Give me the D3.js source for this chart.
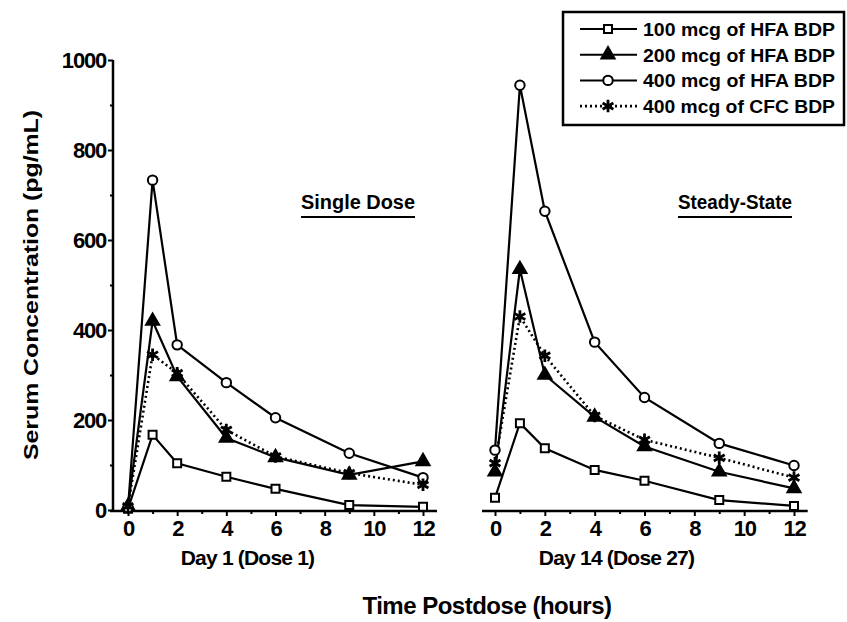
<!DOCTYPE html>
<html>
<head>
<meta charset="utf-8">
<script src="https://cdn.jsdelivr.net/npm/d3@7"></script>
<style>
  body { margin: 0; background: #fff; }
  svg text { font-family: "Liberation Sans", Arial, sans-serif; font-weight: bold; fill: #000; }
</style>
</head>
<body>
<div id="chart"></div>
<script>
var svgWidth = 847;
var svgHeight = 622;

// hours after dose
var timePoints = [0, 1, 2, 4, 6, 9, 12];
var seriesNames = ["100 mcg of HFA BDP", "200 mcg of HFA BDP", "400 mcg of HFA BDP", "400 mcg of CFC BDP"];

// Day 1 (single dose), pg/mL
var day1HFA100 = [3, 167, 104, 74, 47, 11, 7];
var day1HFA200 = [8, 420, 297, 160, 117, 78, 108];
var day1HFA400 = [5, 733, 367, 283, 205, 126, 72];
var day1CFC400 = [8, 345, 304, 178, 119, 82, 56];

// Day 14 (steady state), pg/mL
var day14HFA100 = [27, 193, 137, 89, 65, 22, 9];
var day14HFA200 = [85, 535, 300, 207, 141, 85, 48];
var day14HFA400 = [133, 944, 664, 373, 250, 148, 99];
var day14CFC400 = [104, 430, 343, 209, 156, 116, 72];

var yTicks = [0, 200, 400, 600, 800, 1000];
var yMinorTicks = [100, 300, 500, 700, 900];
var xTicks = [0, 2, 4, 6, 8, 10, 12];
var xMinorTicks = [1, 3, 5, 7, 9, 11];

var svg = d3.select("#chart")
    .append("svg")
    .attr("width", svgWidth)
    .attr("height", svgHeight);

var y = d3.scaleLinear().domain([0, 1000]).range([510, 60]);

var xLeft = d3.scaleLinear().domain([0, 12]).range([128, 423]);
var xRight = d3.scaleLinear().domain([0, 12]).range([495, 794]);

var markers = [
  {type: d3.symbolSquare, size: 64, fill: "#fff", dash: null},
  {type: d3.symbolTriangle, size: 75, fill: "#000", dash: null},
  {type: d3.symbolCircle, size: 70, fill: "#fff", dash: null},
  {type: d3.symbolAsterisk, size: 110, fill: "#000", dash: "2,3"}
];

var panels = [
  {x: xLeft, series: [day1HFA100, day1HFA200, day1HFA400, day1CFC400],
   axisFrom: -0.73, axisTo: 12.57, day: "Day 1 (Dose 1)", tag: "Single Dose", tagX: 301},
  {x: xRight, series: [day14HFA100, day14HFA200, day14HFA400, day14CFC400],
   axisFrom: -0.52, axisTo: 12.55, day: "Day 14 (Dose 27)", tag: "Steady-State", tagX: 678}
];

// y axis (left panel only)
var yAxis = svg.append("g")
    .attr("transform", "translate(113,0)")
    .call(d3.axisLeft(y).tickValues(yTicks).tickFormat(d3.format("d")).tickSize(5).tickPadding(2));
yAxis.select(".domain").attr("stroke-width", 2.5).attr("d", "M0," + y(0) + "V" + y(1000));
yAxis.selectAll(".tick line").attr("stroke-width", 2);
yAxis.selectAll("text")
    .style("font-size", "22px")
    .style("letter-spacing", "-1.2px");
svg.append("g")
    .attr("transform", "translate(113,0)")
    .call(d3.axisLeft(y).tickValues(yMinorTicks).tickSize(3).tickFormat(""))
    .call(g => g.select(".domain").remove())
    .selectAll("line").attr("stroke-width", 2);

svg.append("text")
    .attr("transform", "translate(38,285) rotate(-90)")
    .attr("text-anchor", "middle")
    .attr("textLength", 350)
    .attr("lengthAdjust", "spacingAndGlyphs")
    .style("font-size", "20px")
    .text("Serum Concentration (pg/mL)");

var line = d3.line();

panels.forEach(function(p) {
  var xAxis = svg.append("g")
      .attr("transform", "translate(0," + (y(0) + 1) + ")")
      .call(d3.axisBottom(p.x).tickValues(xTicks).tickSize(5).tickPadding(4));
  xAxis.select(".domain").remove();
  xAxis.selectAll(".tick line").attr("stroke-width", 2);
  xAxis.selectAll("text")
      .style("font-size", "22px")
      .style("letter-spacing", "-1.2px");
  svg.append("g")
      .attr("transform", "translate(0," + (y(0) + 1) + ")")
      .call(d3.axisBottom(p.x).tickValues(xMinorTicks).tickSize(3).tickFormat(""))
      .call(g => g.select(".domain").remove())
      .selectAll("line").attr("stroke-width", 2);
  svg.append("line")
      .attr("x1", p.x(p.axisFrom)).attr("x2", p.x(p.axisTo))
      .attr("y1", y(0) + 1).attr("y2", y(0) + 1)
      .attr("stroke", "#000").attr("stroke-width", 2.5);

  svg.append("text")
      .attr("x", (p.x(0) + p.x(12)) / 2 - 28)
      .attr("y", 565)
      .attr("text-anchor", "middle")
      .style("font-size", "21px")
      .style("letter-spacing", "-0.8px")
      .text(p.day);

  svg.append("text")
      .attr("x", p.tagX)
      .attr("y", 209)
      .attr("textLength", 114)
      .attr("lengthAdjust", "spacingAndGlyphs")
      .style("font-size", "20px")
      .text(p.tag);
  svg.append("line")
      .attr("x1", p.tagX).attr("x2", p.tagX + 114)
      .attr("y1", 217).attr("y2", 217)
      .attr("stroke", "#000").attr("stroke-width", 2);

  p.series.forEach(function(vals, i) {
    var pts = timePoints.map((t, j) => [p.x(t), y(vals[j])]);
    svg.append("path")
        .attr("d", line(pts))
        .attr("fill", "none")
        .attr("stroke", "#000")
        .attr("stroke-width", markers[i].dash ? 2.6 : 2.2)
        .attr("stroke-dasharray", markers[i].dash);
  });

  p.series.forEach(function(vals, i) {
    var m = markers[i];
    svg.selectAll(null)
        .data(vals)
        .enter()
        .append("path")
        .attr("transform", (d, j) => "translate(" + p.x(timePoints[j]) + "," + y(d) + ")")
        .attr("d", d3.symbol().type(m.type).size(m.size))
        .attr("fill", m.fill)
        .attr("stroke", "#000")
        .attr("stroke-width", m.type === d3.symbolAsterisk ? 2.8 : 2);
  });
});

svg.append("text")
    .attr("x", 487)
    .attr("y", 614)
    .attr("text-anchor", "middle")
    .style("font-size", "24px")
    .style("letter-spacing", "-0.5px")
    .text("Time Postdose (hours)");

// legend
var legend = svg.append("g");
legend.append("rect")
    .attr("x", 563).attr("y", 12)
    .attr("width", 281).attr("height", 113)
    .attr("fill", "#fff")
    .attr("stroke", "#000")
    .attr("stroke-width", 2.5);

seriesNames.forEach(function(name, i) {
  var ly = 29 + i * 25.7;
  var m = markers[i];
  legend.append("line")
      .attr("x1", 580).attr("x2", 637)
      .attr("y1", ly).attr("y2", ly)
      .attr("stroke", "#000")
      .attr("stroke-width", m.dash ? 2.6 : 2)
      .attr("stroke-dasharray", m.dash);
  legend.append("path")
      .attr("transform", "translate(608," + ly + ")")
      .attr("d", d3.symbol().type(m.type).size(m.size))
      .attr("fill", m.fill)
      .attr("stroke", "#000")
      .attr("stroke-width", m.type === d3.symbolAsterisk ? 2.8 : 2);
  legend.append("text")
      .attr("x", 643)
      .attr("y", ly + 7)
      .attr("textLength", 192)
      .attr("lengthAdjust", "spacingAndGlyphs")
      .style("font-size", "18px")
      .text(name);
});
</script>
</body>
</html>
